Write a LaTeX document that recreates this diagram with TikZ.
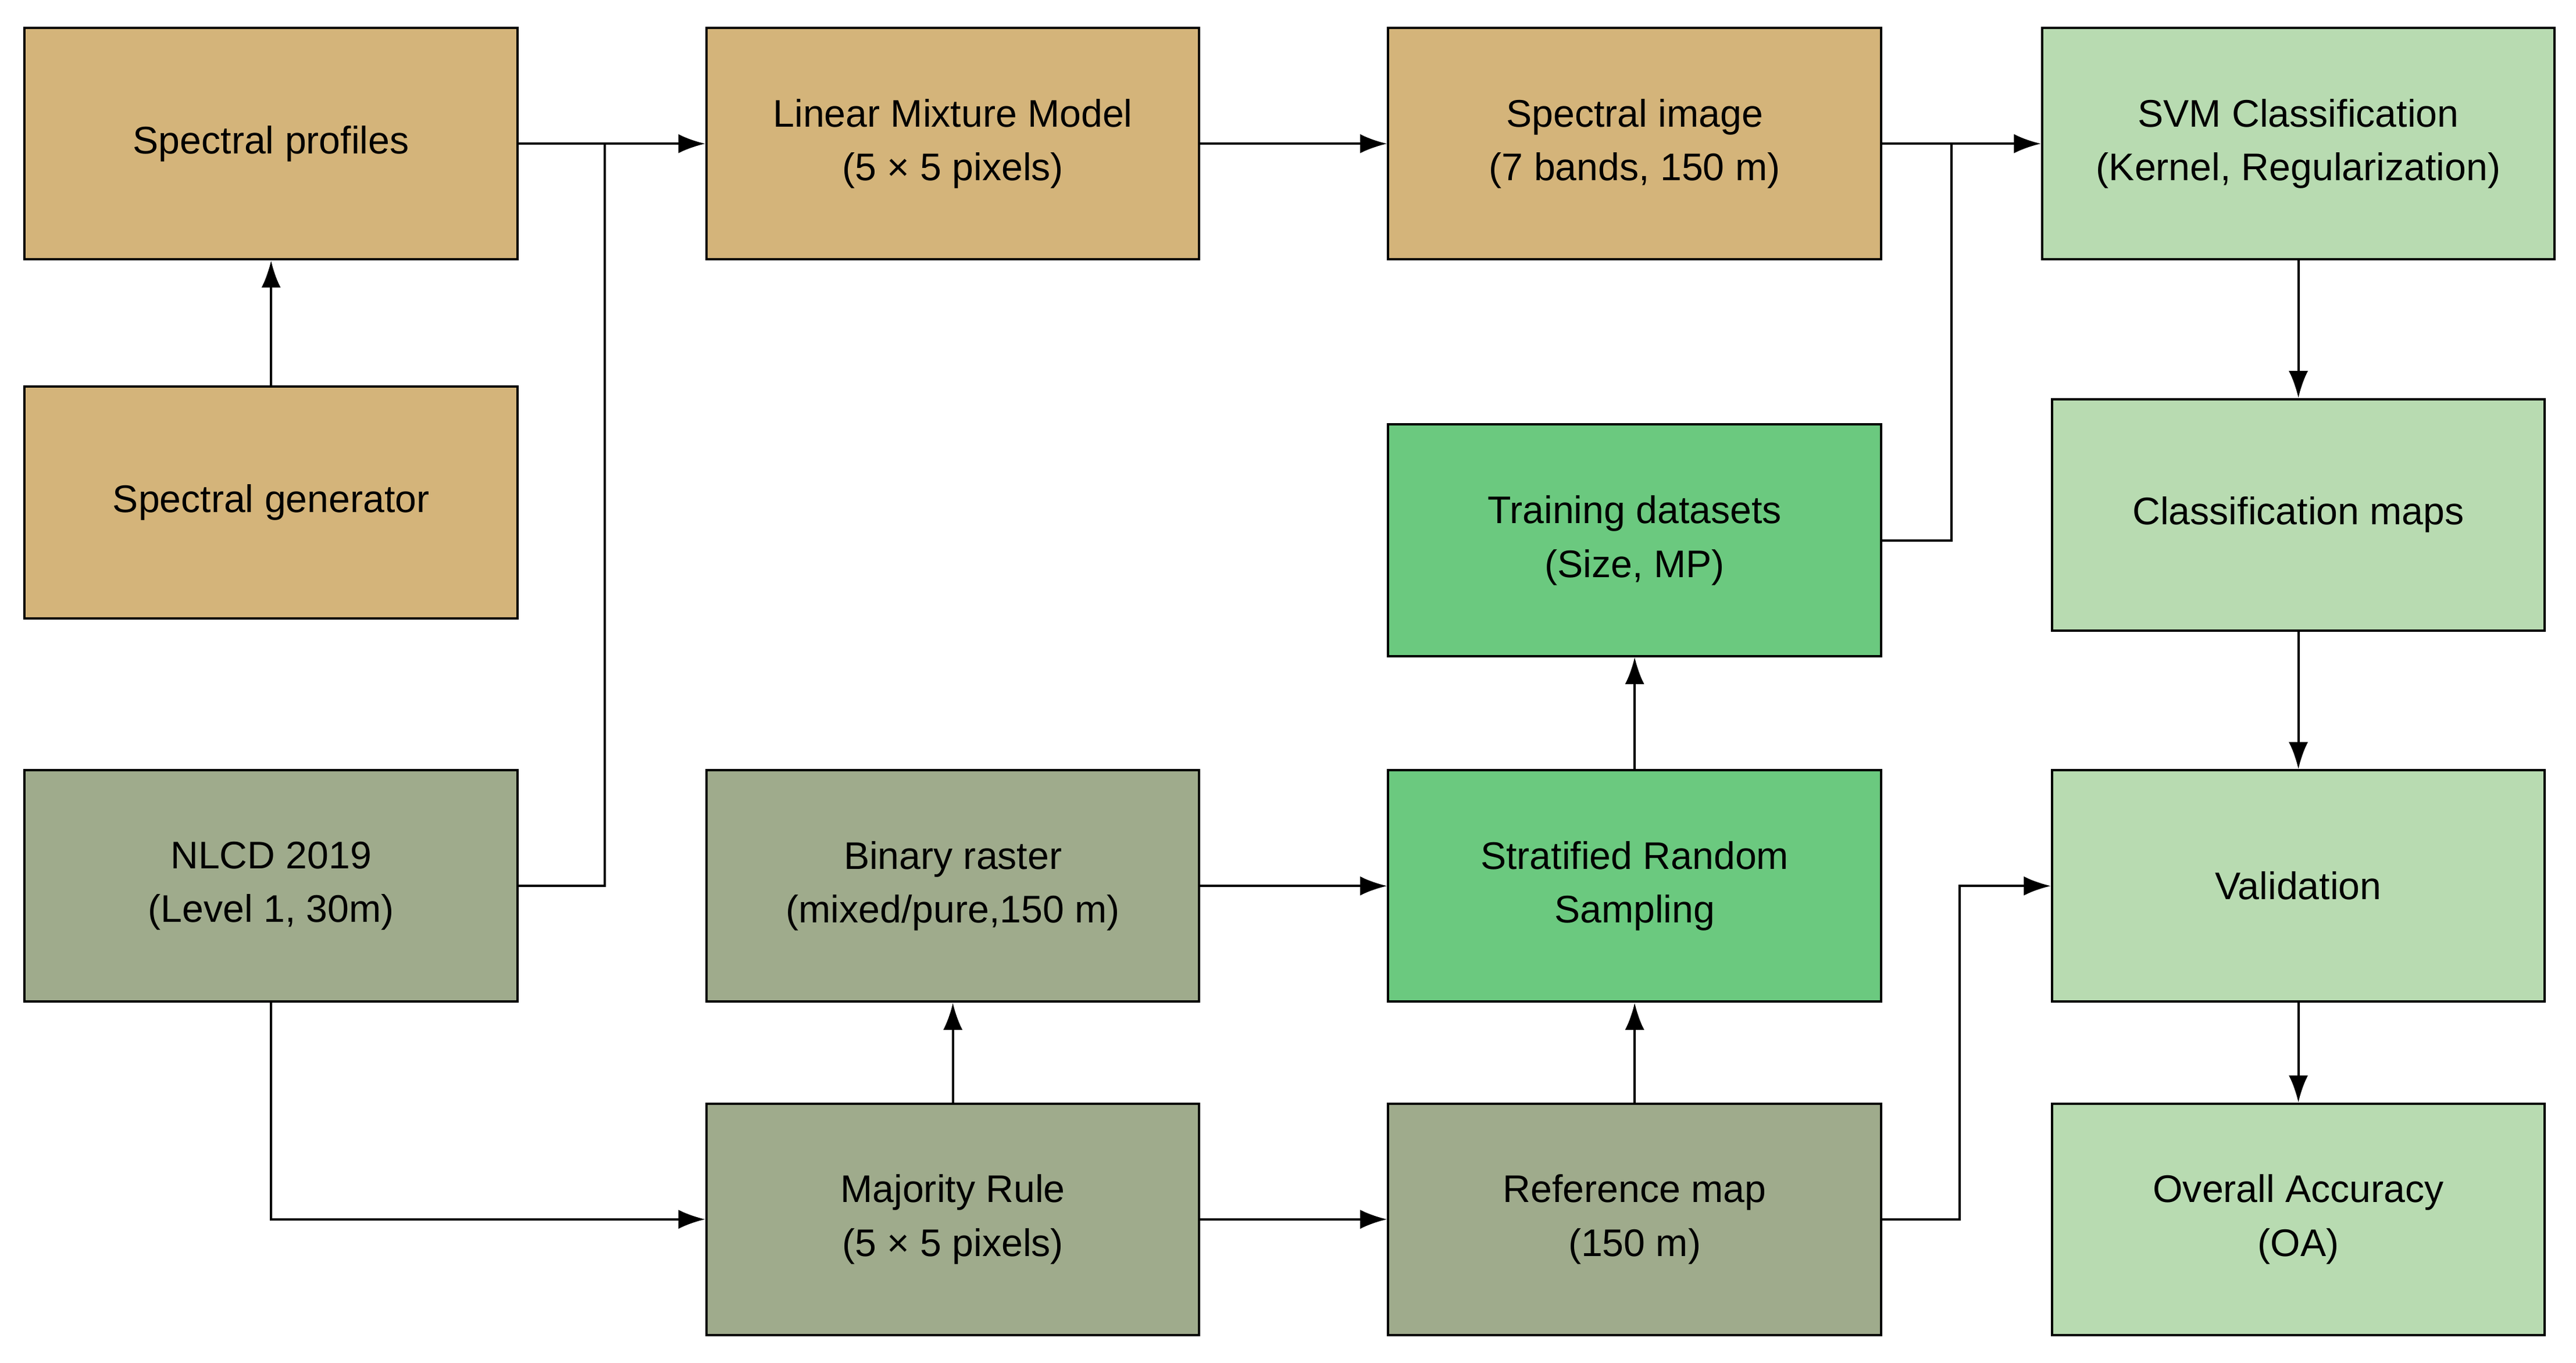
\documentclass[tikz,border=0pt]{standalone}
\usepackage{fontspec}
\setmainfont{Liberation Sans}
\usetikzlibrary{arrows.meta}
\definecolor{tan}{HTML}{D4B47A}
\definecolor{gg}{HTML}{9FAB8C}
\definecolor{gr}{HTML}{6BC97F}
\definecolor{lg}{HTML}{B8DBB1}
\begin{document}
\begin{tikzpicture}[x=0.03cm,y=-0.03cm,
 box/.style={draw=black,line width=1.2pt,minimum width=9cm,minimum height=4.23cm,align=center,font=\fontsize{20}{28}\selectfont,inner sep=0pt},
 arr/.style={line width=1.2pt,-{Latex[length=14pt,width=10pt]}}]
\useasboundingbox (0,0) rectangle (1568,830);
\node[box,fill=tan] (sp) at (165,87.5) {Spectral profiles};
\node[box,fill=tan] (lmm) at (580,87.5) {Linear Mixture Model\\(5 × 5 pixels)};
\node[box,fill=tan] (si) at (995,87.5) {Spectral image\\(7 bands, 150 m)};
\node[box,fill=lg,minimum width=9.36cm] (svm) at (1399,87.5) {SVM Classification\\(Kernel, Regularization)};
\node[box,fill=tan] (sg) at (165,306) {Spectral generator};
\node[box,fill=gr] (td) at (995,329) {Training datasets\\(Size, MP)};
\node[box,fill=lg] (cm) at (1399,313.5) {Classification maps};
\node[box,fill=gg] (nl) at (165,539.5) {NLCD 2019\\(Level 1, 30m)};
\node[box,fill=gg] (br) at (580,539.5) {Binary raster\\(mixed/pure,150 m)};
\node[box,fill=gr] (srs) at (995,539.5) {Stratified Random\\Sampling};
\node[box,fill=lg] (va) at (1399,539.5) {Validation};
\node[box,fill=gg] (mr) at (580,742.5) {Majority Rule\\(5 × 5 pixels)};
\node[box,fill=gg] (rm) at (995,742.5) {Reference map\\(150 m)};
\node[box,fill=lg] (oa) at (1399,742.5) {Overall Accuracy\\(OA)};
\coordinate (j1) at (368,87.5);
\coordinate (j2) at (1188,87.5);
\draw[arr] (sp) -- (lmm);
\draw[line width=1.2pt] (nl.east) -| (j1);
\draw[arr] (sg) -- (sp);
\draw[arr] (lmm) -- (si);
\draw[arr] (si) -- (svm);
\draw[line width=1.2pt] (td.east) -| (j2);
\draw[arr] (svm) -- (cm);
\draw[arr] (cm) -- (va);
\draw[arr] (va) -- (oa);
\draw[arr] (nl.south) |- (mr.west);
\draw[arr] (mr) -- (br);
\draw[arr] (br) -- (srs);
\draw[arr] (mr) -- (rm);
\draw[arr] (rm) -- (srs);
\draw[arr] (srs) -- (td);
\draw[arr] (rm.east) -- ++(47,0) |- (va.west);
\end{tikzpicture}
\end{document}
